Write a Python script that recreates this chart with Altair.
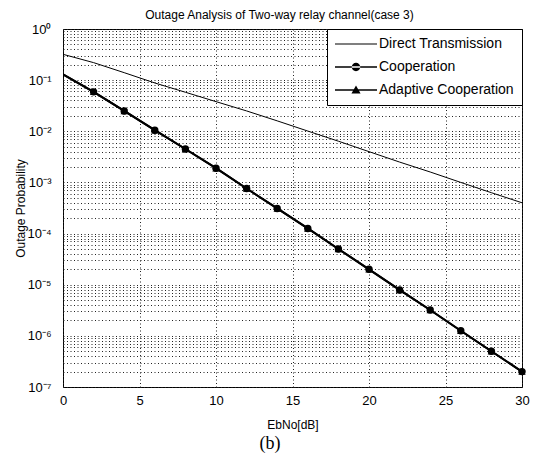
import altair as alt
import pandas as pd

# ---- data ----
ebno = [0, 2, 4, 6, 8, 10, 12, 14, 16, 18, 20, 22, 24, 26, 28, 30]
direct = [0.32, 0.22, 0.14, 0.088, 0.058, 0.038, 0.025, 0.016, 0.0101, 0.0064,
          0.0040, 0.0025, 0.0016, 0.0010, 0.00063, 0.00040]
cooperation = [0.13, 0.059, 0.025, 0.0105, 0.0045, 0.0019, 7.6e-4, 3.1e-4, 1.26e-4,
               5.0e-5, 2.0e-5, 7.9e-6, 3.2e-6, 1.26e-6, 5.0e-7, 2.0e-7]
adaptive = [0.13, 0.059, 0.025, 0.0105, 0.0045, 0.0019, 7.6e-4, 3.1e-4, 1.26e-4,
            5.0e-5, 2.0e-5, 7.9e-6, 3.2e-6, 1.26e-6, 5.0e-7, 2.0e-7]
series_names = ["Direct Transmission", "Cooperation", "Adaptive Cooperation"]
x_ticks = [0, 5, 10, 15, 20, 25, 30]
decades = [1e-7, 1e-6, 1e-5, 1e-4, 1e-3, 1e-2, 1e-1, 1]
minor_mult = [2, 3, 4, 5, 6, 7, 8, 9]

rows = []
for name, vals in zip(series_names, [direct, cooperation, adaptive]):
    for xv, yv in zip(ebno, vals):
        rows.append({"x": xv, "y": yv, "series": name})
df = pd.DataFrame(rows)

y_values = sorted(decades + [d * m for d in decades[:-1] for m in minor_mult])

W, H = 459, 358
FONT = "Liberation Sans"

x_enc = alt.X("x:Q", scale=alt.Scale(domain=[0, 30], nice=False),
              axis=alt.Axis(values=x_ticks, title="EbNo[dB]", grid=True,
                            gridDash=[1, 2.5], gridColor="#222", gridWidth=1,
                            domain=False, ticks=False, tickSize=0, labelPadding=7,
                            labelFlush=False, labelFontSize=13, labelFont=FONT,
                            labelColor="black", titleFont=FONT, titleFontSize=12,
                            titleFontWeight="normal", titleColor="black",
                            titleY=37, titleBaseline="middle"))
y_enc = alt.Y("y:Q", scale=alt.Scale(type="log", domain=[1e-7, 1], nice=False),
              axis=alt.Axis(values=y_values, title="Outage Probability", grid=True,
                            gridDash=[1, 2.5], gridColor="#222", gridWidth=1,
                            domain=False, ticks=False, tickSize=0, labelPadding=12,
                            labelFlush=False, labelOverlap=False, labelBound=False,
                            labelExpr="abs(log(datum.value)/LN10 - round(log(datum.value)/LN10)) < 0.001 ? '10' + ['\u2070','\u207b\u00b9','\u207b\u00b2','\u207b\u00b3','\u207b\u2074','\u207b\u2075','\u207b\u2076','\u207b\u2077'][-round(log(datum.value)/LN10)] : ''",
                            labelFontSize=13, labelFont=FONT, labelColor="black",
                            titleFont=FONT, titleFontSize=12, titleFontWeight="normal",
                            titleColor="black", titleX=-43, titleY=H / 2,
                            titleBaseline="middle"))

base = alt.Chart(df)

direct_line = base.transform_filter(alt.datum.series == series_names[0]).mark_line(
    color="black", strokeWidth=1, clip=True).encode(x=x_enc, y=y_enc)
coop_line = base.transform_filter(alt.datum.series == series_names[1]).mark_line(
    color="black", strokeWidth=2, clip=True).encode(x="x:Q", y="y:Q")
coop_pts = base.transform_filter(
    (alt.datum.series == series_names[1]) & (alt.datum.x > 0)).mark_point(
    shape="circle", filled=True, color="black", size=55, opacity=1).encode(x="x:Q", y="y:Q")
adapt_line = base.transform_filter(alt.datum.series == series_names[2]).mark_line(
    color="black", strokeWidth=2, clip=True).encode(x="x:Q", y="y:Q")
adapt_pts = base.transform_filter(
    (alt.datum.series == series_names[2]) & (alt.datum.x > 0)).mark_point(
    shape="triangle-up", filled=True, color="black", size=55, opacity=1).encode(x="x:Q", y="y:Q")

# legend glyphs as filled paths (line sample + marker), unit scale 7px
path_line = "M-3,-0.08H3V0.08H-3Z"
path_circle = ("M-3,-0.12H3V0.12H-3Z"
               "M-0.6,0A0.6,0.6 0 1,0 0.6,0A0.6,0.6 0 1,0 -0.6,0Z")
path_tri = "M-3,-0.12H3V0.12H-3ZM0,-0.65L0.65,0.5L-0.65,0.5Z"

legend_layer = base.transform_filter(alt.datum.x < -100).mark_point(
    filled=True, color="black").encode(
    x="x:Q", y="y:Q",
    shape=alt.Shape("series:N",
                    scale=alt.Scale(domain=series_names,
                                    range=[path_line, path_circle, path_tri]),
                    legend=alt.Legend(title=None, orient="top-right", offset=0,
                                      strokeColor="black", fillColor="white",
                                      padding=8, symbolSize=196,
                                      symbolFillColor="black",
                                      symbolStrokeWidth=0, symbolOpacity=1,
                                      symbolOffset=14, labelOffset=16,
                                      labelFontSize=14, labelFont=FONT,
                                      labelColor="black", rowPadding=9,
                                      cornerRadius=0)))

caption = alt.Chart(pd.DataFrame({"t": ["(b)"]})).mark_text(
    font="Liberation Serif", fontSize=18, color="black", align="center",
    baseline="middle").encode(text="t:N", x=alt.value(207), y=alt.value(415))

chart = alt.layer(direct_line, coop_line, adapt_line, coop_pts, adapt_pts,
                  legend_layer, caption).properties(
    width=W, height=H,
    title=alt.TitleParams("Outage Analysis of Two-way relay channel(case 3)",
                          fontSize=12, fontWeight="normal", font=FONT,
                          color="black", offset=1, dx=-13),
    autosize=alt.AutoSizeParams(type="none"),
    padding={"left": 55, "top": 21, "right": 15, "bottom": 66},
).configure_view(stroke="black", strokeWidth=1)

chart.save("out.html", embed_options={"renderer": "svg", "actions": False})
